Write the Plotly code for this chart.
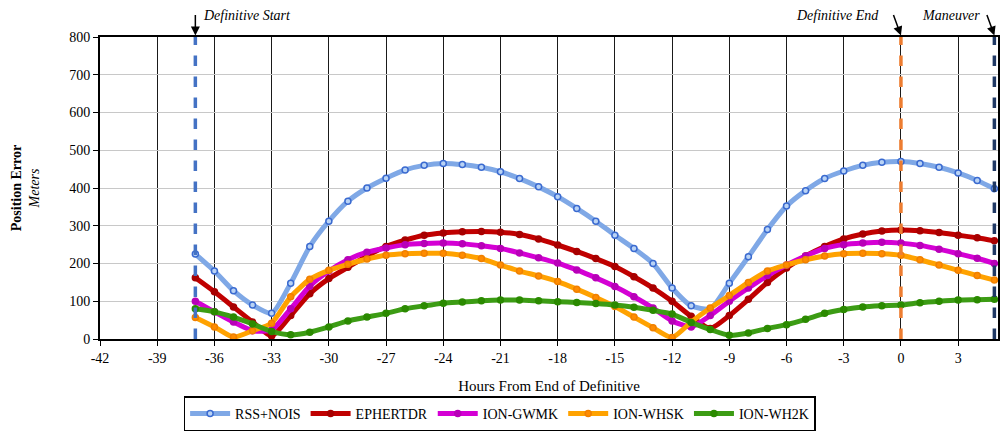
import plotly.graph_objects as go

# ---- data ----
hours = [-37, -36, -35, -34, -33, -32, -31, -30, -29, -28, -27, -26, -25, -24, -23, -22,
         -21, -20, -19, -18, -17, -16, -15, -14, -13, -12, -11, -10, -9, -8, -7, -6,
         -5, -4, -3, -2, -1, 0, 1, 2, 3, 4, 4.9]

rss_nois = [225, 180, 128, 90, 68, 148, 245, 312, 365, 400, 426, 448, 460, 465, 462, 455,
            443, 425, 403, 377, 346, 312, 275, 240, 200, 135, 88, 80, 148, 218, 290, 352,
            393, 425, 445, 460, 468, 470, 465, 455, 440, 420, 398]
ephertdr = [162, 125, 85, 45, 8, 62, 120, 160, 190, 220, 245, 262, 275, 281, 284, 285,
            283, 277, 265, 249, 232, 213, 192, 165, 135, 100, 60, 28, 62, 105, 150, 188,
            220, 245, 265, 278, 286, 289, 287, 282, 275, 268, 260]
ion_gwmk = [100, 72, 45, 22, 24, 80, 140, 180, 210, 230, 241, 250, 253, 254, 252, 247,
            240, 228, 215, 201, 183, 162, 139, 112, 82, 48, 32, 62, 100, 135, 168, 196,
            220, 240, 250, 254, 256, 254, 248, 238, 226, 214, 200]
ion_whsk = [57, 32, 5, 22, 42, 112, 158, 182, 198, 212, 222, 226, 227, 227, 222, 213,
            196, 180, 167, 152, 132, 110, 86, 58, 30, 4, 45, 82, 115, 150, 180, 196,
            210, 220, 226, 227, 226, 222, 210, 196, 182, 168, 156]
ion_wh2k = [80, 72, 58, 40, 20, 11, 18, 32, 48, 58, 68, 80, 88, 95, 98, 101,
            103, 103, 101, 99, 97, 94, 90, 84, 76, 66, 44, 25, 10, 16, 28, 38,
            52, 68, 78, 85, 88, 90, 96, 100, 103, 104, 105]

series_names = ["RSS+NOIS", "EPHERTDR", "ION-GWMK", "ION-WHSK", "ION-WH2K"]
series_values = [rss_nois, ephertdr, ion_gwmk, ion_whsk, ion_wh2k]

event_names = ["Definitive Start", "Definitive End", "Maneuver"]
event_hours = [-37, 0, 4.9]

x_ticks = list(range(-42, 4, 3))
y_ticks = list(range(0, 801, 100))

# ---- styles ----
line_colors = ["#7fa8e6", "#c00000", "#d400d4", "#ffa200", "#3c9c14"]
marker_fill = ["#b9d3f5", "#a80000", "#b800b8", "#ff8c00", "#2b8a00"]
marker_line = ["#3a6ad0", "#a80000", "#b800b8", "#f08000", "#2b8a00"]
event_colors = ["#4472c4", "#ed7d31", "#1f3864"]

serif = "Liberation Serif"

fig = go.Figure()
for name, vals, lc, mf, ml in zip(series_names, series_values, line_colors, marker_fill, marker_line):
    fig.add_trace(go.Scatter(
        x=hours, y=vals, name=name, mode="lines+markers",
        line=dict(color=lc, width=5, shape="spline", smoothing=0.6),
        marker=dict(symbol="circle", size=6, color=mf, line=dict(color=ml, width=1.5)),
    ))

for h, c in zip(event_hours, event_colors):
    fig.add_shape(type="line", xref="x", yref="paper", x0=h, x1=h, y0=0, y1=1,
                  line=dict(color=c, width=3.5, dash="dash"), layer="above")

# event labels with arrows
label_shift = [6, -20, -12]
label_anchor = ["left", "right", "right"]
arrow_ax = [0, -8, -8]
for h, name, sh, anc, axo in zip(event_hours, event_names, label_shift, label_anchor, arrow_ax):
    fig.add_annotation(x=h, y=1.005, xref="x", yref="paper", text="",
                       showarrow=True, arrowhead=2, arrowsize=1.2, arrowwidth=1.5,
                       arrowcolor="black", ax=axo, ay=-22)
    fig.add_annotation(x=h, y=1.07, xref="x", yref="paper",
                       text="<i>" + name + "</i>", showarrow=False,
                       xanchor=anc, yanchor="middle", xshift=sh,
                       font=dict(family=serif, size=14, color="black"))

fig.update_layout(
    width=1000, height=444,
    margin=dict(l=100, r=2, t=37, b=105, autoexpand=False),
    paper_bgcolor="white", plot_bgcolor="white",
    font=dict(family=serif, size=14, color="black"),
    showlegend=True,
    legend=dict(orientation="h", x=0.445, xanchor="center", y=-0.19, yanchor="top",
                bordercolor="black", borderwidth=1.5,
                font=dict(family=serif, size=14, color="black"),
                itemwidth=40, tracegroupgap=0),
    xaxis=dict(range=[-42, 5.09], tickmode="array", tickvals=x_ticks,
               ticktext=[str(t) for t in x_ticks], automargin=False,
               showgrid=True, gridcolor="#1a1a1a", gridwidth=1.4,
               showline=True, linecolor="black", linewidth=2, mirror=True,
               ticks="outside", ticklen=5, tickcolor="black", zeroline=False,
               title=dict(text="Hours From End of Definitive", standoff=16,
                          font=dict(family=serif, size=15)),
               tickfont=dict(family=serif, size=14)),
    yaxis=dict(range=[0, 800], tickmode="array", tickvals=y_ticks, automargin=False,
               showgrid=True, gridcolor="#c8c8c8", gridwidth=1.2,
               showline=True, linecolor="black", linewidth=2, mirror=True,
               ticks="outside", ticklen=5, tickcolor="black", zeroline=False,
               title=dict(text="<b>Position Error</b><br><i>Meters</i>", standoff=26,
                          font=dict(family=serif, size=14)),
               tickfont=dict(family=serif, size=14)),
)

fig.write_html("out.html", post_script="document.body.style.margin='0px';",
               config={"displayModeBar": False})
